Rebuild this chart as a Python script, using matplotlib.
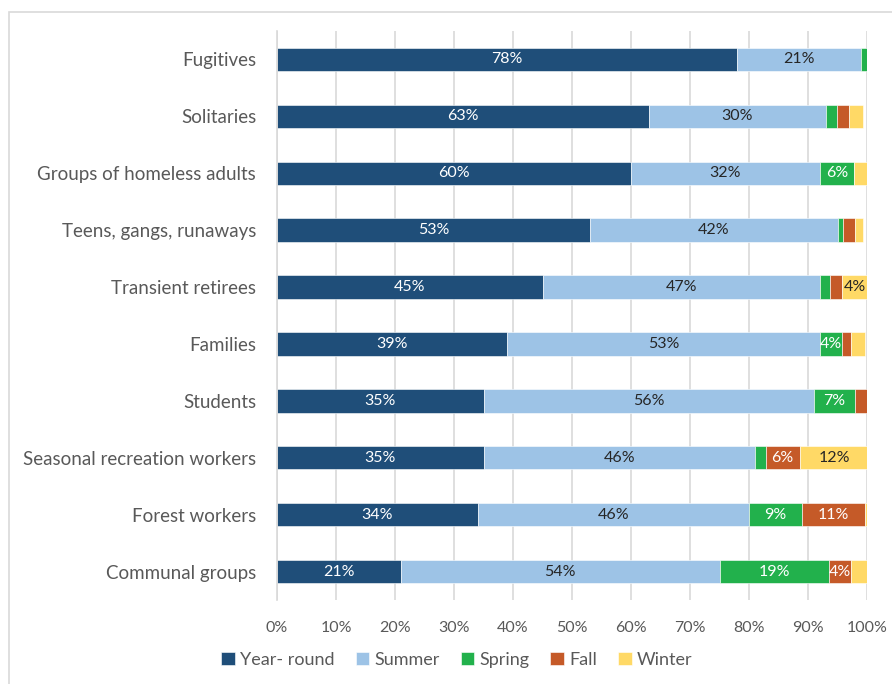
import matplotlib
matplotlib.use("Agg")
import matplotlib.pyplot as plt
from matplotlib.patches import Rectangle
import numpy as np

categories = ["Fugitives", "Solitaries", "Groups of homeless adults",
              "Teens, gangs, runaways", "Transient retirees", "Families",
              "Students", "Seasonal recreation workers", "Forest workers",
              "Communal groups"]
series_names = ["Year- round", "Summer", "Spring", "Fall", "Winter"]
year_round = [78, 63, 60, 53, 45, 39, 35, 35, 34, 21]
summer = [21, 30, 32, 42, 47, 53, 56, 46, 46, 54]
spring = [1.0, 1.9, 5.8, 0.9, 1.8, 3.8, 6.9, 1.8, 8.9, 18.6]
fall = [0.0, 2.1, 0.0, 2.1, 2.0, 1.5, 2.2, 5.8, 10.7, 3.7]
winter = [0.0, 2.3, 2.4, 1.3, 4.2, 2.3, 0.0, 11.6, 0.8, 2.9]
x_ticks = [0, 10, 20, 30, 40, 50, 60, 70, 80, 90, 100]

colors = ["#1F4E79", "#9DC3E6", "#22B14C", "#C55A28", "#FFD966"]
text_colors = ["white", "#262626", "white", "white", "#262626"]

plt.rcParams['font.family'] = ['Lato', 'DejaVu Sans']

fig = plt.figure(figsize=(8.92, 6.84), dpi=100)
W, H = 892, 684
ax = fig.add_axes([277 / W, 1 - 600 / H, 590 / W, 569 / H])

# outer border
fig.patches.append(Rectangle((9 / W, -0.1), 1.2, 1 - 12 / H + 0.1,
                             transform=fig.transFigure, fill=False,
                             edgecolor="#D9D9D9", linewidth=1.2))

data = [year_round, summer, spring, fall, winter]
y = np.arange(len(categories))
left = np.zeros(len(categories))
for vals, name, col, tc in zip(data, series_names, colors, text_colors):
    vals = np.array(vals, dtype=float)
    ax.barh(y, vals, left=left, height=0.41, color=col, label=name,
            edgecolor="white", linewidth=0.4, zorder=3)
    for i, v in enumerate(vals):
        if v >= 3.5:
            ax.text(left[i] + v / 2, y[i], f"{int(round(v))}%", ha="center",
                    va="center", color=tc, fontsize=11.5, zorder=4)
    left += vals

ax.set_xlim(0, 100)
ax.set_ylim(len(categories) - 0.5, -0.5)
ax.set_xticks(x_ticks)
ax.set_xticklabels([f"{t}%" for t in x_ticks])
ax.set_yticks(y)
ax.set_yticklabels(categories)
ax.tick_params(axis="y", length=0, pad=15, labelsize=13.5, labelcolor="#595959")
ax.tick_params(axis="x", length=0, pad=15, labelsize=11.5, labelcolor="#595959")
ax.grid(axis="x", color="#D9D9D9", linewidth=1.2, zorder=0)
for s in ["top", "right", "bottom"]:
    ax.spines[s].set_visible(False)
ax.spines["left"].set_color("#D9D9D9")
ax.spines["left"].set_linewidth(1.2)
ax.spines["left"].set_zorder(5)

handles, labels = ax.get_legend_handles_labels()
leg = fig.legend(handles, labels, loc="center", ncol=5,
                 bbox_to_anchor=(457 / W, 1 - 660 / H), frameon=False,
                 fontsize=13, handlelength=0.75, handleheight=0.75,
                 handletextpad=0.3, columnspacing=1.15)
for t in leg.get_texts():
    t.set_color("#595959")

fig.savefig("out.png", dpi=100)
